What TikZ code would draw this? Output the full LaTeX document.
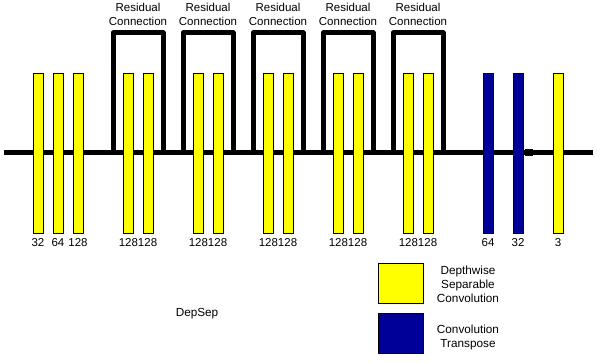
\documentclass[tikz,border=0pt]{standalone}
\usepackage{fontspec}
\setmainfont{Liberation Sans}
\definecolor{dsyellow}{HTML}{FFFF00}
\definecolor{ctblue}{HTML}{000099}
\begin{document}
\begin{tikzpicture}[x=1pt,y=-1pt,
  bar/.style={draw=black,line width=0.9pt,inner sep=0pt,minimum width=10pt,minimum height=160pt},
  dsbar/.style={bar,fill=dsyellow},
  ctbar/.style={bar,fill=ctblue},
  lbl/.style={font=\fontsize{11.5}{14}\selectfont,inner sep=0pt,align=center},
  leglbl/.style={font=\fontsize{11.75}{14}\selectfont,inner sep=0pt,align=center},
  wire/.style={line width=5pt,black},
  loop/.style={line width=5pt,black,line join=round},
  legbox/.style={draw=black,line width=0.9pt,inner sep=0pt,minimum width=45pt,minimum height=40pt}]
\useasboundingbox (0,0) rectangle (597,363);
% main line
\coordinate (L) at (4,153);
\coordinate (R) at (593,153);
\draw[wire] (L) -- (R);
% residual loops
\foreach \i/\a/\b in {1/113/163,2/183/233,3/253/303,4/323/373,5/393/443}{
  \coordinate (la\i) at (\a,153);
  \coordinate (lb\i) at (\b,153);
  \draw[loop] (la\i) -- (\a,33) -- (\b,33) -- (lb\i);
  \node[lbl] (rc\i) at ({(\a+\b)/2},14) {Residual\\Connection};
}
% small marker
\node[fill=black,inner sep=0pt,minimum width=8pt,minimum height=7pt] (mk) at (529,153) {};
% bars
\foreach \n/\x in {b1/38,b2/58,b3/78,b4/128,b5/148,b6/198,b7/218,b8/268,b9/288,b10/338,b11/358,b12/408,b13/428,b16/558}{
  \node[dsbar] (\n) at (\x,153) {};
}
\node[ctbar] (b14) at (488,153) {};
\node[ctbar] (b15) at (518,153) {};
% numbers
\node[lbl] (n1) at (38,243) {32};
\node[lbl] (n2) at (58,243) {64};
\node[lbl] (n3) at (78,243) {128};
\foreach \i/\x in {4/138,5/208,6/278,7/348,8/418}{
  \node[lbl] (n\i) at (\x,243) {128128};
}
\node[lbl] (n9) at (488,243) {64};
\node[lbl] (n10) at (518,243) {32};
\node[lbl] (n11) at (558,243) {3};
% legend
\node[legbox,fill=dsyellow] (ly) at (400.5,283) {};
\node[legbox,fill=ctblue] (lc) at (400.5,333) {};
\node[leglbl] (ty) at (468,284) {Depthwise\\Separable\\Convolution};
\node[leglbl] (tc) at (468,337) {Convolution\\Transpose};
\node[leglbl] (ds) at (197,314) {DepSep};
\end{tikzpicture}
\end{document}
